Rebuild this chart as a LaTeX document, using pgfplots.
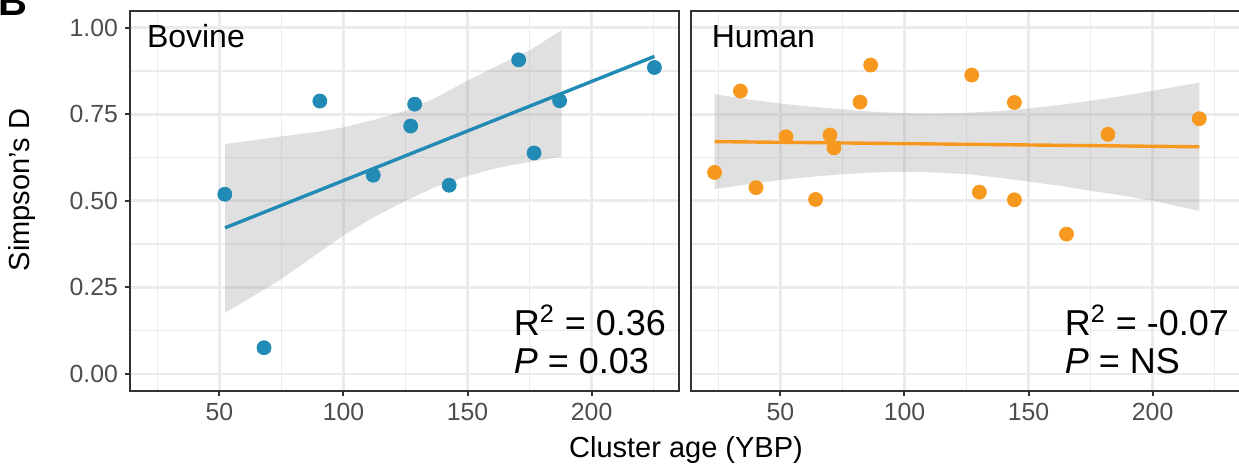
\documentclass[border=0pt]{standalone}
\usepackage{pgfplots}
\pgfplotsset{compat=1.18}
\usepackage{fontspec}
\setmainfont{Liberation Sans}
\definecolor{bv}{RGB}{33,139,181}
\definecolor{hu}{RGB}{247,153,30}
\definecolor{gridc}{RGB}{235,235,235}
\definecolor{axc}{RGB}{51,51,51}
\definecolor{tickc}{RGB}{77,77,77}
\definecolor{bandc}{RGB}{153,153,153}

\pgfplotstableread{
x y
52.2 0.519
68 0.076
90.5 0.788
112 0.574
127.1 0.716
128.7 0.779
142.6 0.545
170.6 0.907
176.8 0.638
187.1 0.789
225.3 0.885
}\bovine

\pgfplotstableread{
x y
23.5 0.582
33.9 0.817
40.2 0.538
52.3 0.685
64.2 0.504
70 0.690
71.6 0.653
82.1 0.785
86.4 0.892
127.1 0.863
130.2 0.525
144.3 0.784
144.3 0.503
165.3 0.404
182 0.692
218.8 0.737
}\human

\pgfplotsset{facet/.style={
  scale only axis, width=274.5pt, height=190pt, anchor=south west,
  xmin=14, xmax=235.2, ymin=-0.049, ymax=1.048,
  xtick={50,100,150,200}, xticklabels={50,100,150,200},
  ytick={0,0.25,0.5,0.75,1},
  minor xtick={25,75,125,175,225},
  minor ytick={0.125,0.375,0.625,0.875},
  grid=both,
  major grid style={draw=gridc, line width=1.4pt},
  minor grid style={draw=gridc, line width=0.7pt},
  axis line style={draw=axc, line width=1pt},
  tick align=outside, major tick length=2.5pt, minor tick length=0pt,
  tick style={draw=axc, line width=1pt},
  xtick pos=left, ytick pos=left,
  ticklabel style={font=\fontsize{12.4}{14}\selectfont, text=tickc},
}}

\begin{document}
\begin{tikzpicture}
\useasboundingbox (0,0) rectangle (619.5pt,231.5pt);

% Bovine
\begin{axis}[facet, at={(65pt,36pt)},
  yticklabels={0.00,0.25,0.50,0.75,1.00}]
\addplot[only marks, mark=*, mark size=3.5pt, color=bv] table[x=x,y=y] {\bovine};
\addplot[fill=bandc, fill opacity=0.3, draw=none] coordinates {
 (52.3,0.664) (63,0.674) (75.1,0.686) (88,0.698) (100,0.712) (112,0.733) (125,0.760) (137,0.797) (150,0.847) (162,0.890) (175.2,0.935) (187.9,0.993)
 (187.9,0.627) (175.2,0.613) (162,0.595) (150,0.572) (137,0.540) (125,0.500) (112,0.452) (100,0.400) (88,0.340) (75.1,0.275) (63,0.222) (52.3,0.177)} -- cycle;
\addplot[bv, line width=1.7pt] coordinates {(52.3,0.422) (225.3,0.917)};
\end{axis}

% Human
\begin{axis}[facet, at={(345.5pt,36pt)},
  yticklabels={}, ytick style={draw=none}]
\addplot[only marks, mark=*, mark size=3.5pt, color=hu] table[x=x,y=y] {\human};
\addplot[fill=bandc, fill opacity=0.3, draw=none] coordinates {
 (23.5,0.808) (37,0.793) (50,0.781) (62,0.772) (75.2,0.764) (88,0.757) (100.3,0.753) (112,0.752) (125.2,0.754) (138,0.759) (150.4,0.767) (163,0.777) (175.3,0.789) (188,0.803) (200.2,0.818) (218.8,0.841)
 (218.8,0.471) (200.2,0.500) (188,0.515) (175.3,0.529) (163,0.543) (150.4,0.555) (138,0.567) (125.2,0.577) (112,0.582) (100.3,0.584) (88,0.582) (75.2,0.577) (62,0.569) (50,0.560) (37,0.548) (23.5,0.534)} -- cycle;
\addplot[hu, line width=1.7pt] coordinates {(23.5,0.671) (218.8,0.656)};
\end{axis}

% texts
\node[anchor=base west, font=\fontsize{16}{16}\selectfont, inner sep=0pt] at (73.3pt,208pt) {Bovine};
\node[anchor=base west, font=\fontsize{16}{16}\selectfont, inner sep=0pt] at (355.7pt,208pt) {Human};
\node[anchor=base west, font=\fontsize{18}{18}\selectfont, inner sep=0pt] at (256.7pt,64pt) {R\textsuperscript{2} = 0.36};
\node[anchor=base west, font=\fontsize{18}{18}\selectfont, inner sep=0pt] at (256.7pt,44.8pt) {\textit{P} = 0.03};
\node[anchor=base west, font=\fontsize{18}{18}\selectfont, inner sep=0pt] at (532.2pt,64pt) {R\textsuperscript{2} = -0.07};
\node[anchor=base west, font=\fontsize{18}{18}\selectfont, inner sep=0pt] at (532.2pt,44.8pt) {\textit{P} = NS};
\node[anchor=base, font=\fontsize{14.5}{14.5}\selectfont] at (343pt,3pt) {Cluster age (YBP)};
\node[anchor=base, rotate=90, font=\fontsize{14.5}{14.5}\selectfont] at (15pt,136.5pt) {Simpson's D};
\node[anchor=base west, font=\fontsize{20}{20}\selectfont\bfseries, inner sep=0pt] at (-1pt,224pt) {B};
\end{tikzpicture}
\end{document}
